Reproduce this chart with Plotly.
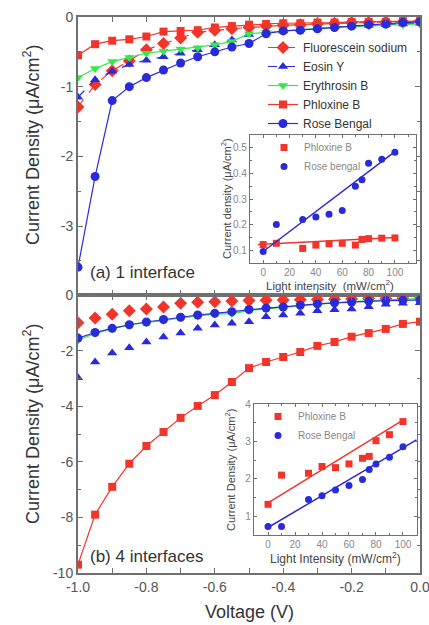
import plotly.graph_objects as go

# ---------------- data ----------------
voltage = [-1.0, -0.95, -0.9, -0.85, -0.8, -0.75, -0.7, -0.65, -0.6, -0.55, -0.5,
           -0.45, -0.4, -0.35, -0.3, -0.25, -0.2, -0.15, -0.1, -0.05, 0.0]

# (a) 1 interface
a_fluorescein = [-1.29, -0.97, -0.77, -0.63, -0.47, -0.38, -0.30, -0.22, -0.19, -0.17, -0.15,
                 -0.13, -0.12, -0.11, -0.10, -0.09, -0.08, -0.08, -0.07, -0.07, -0.06]
a_eosin = [-1.15, -0.90, -0.78, -0.68, -0.62, -0.57, -0.52, -0.47, -0.40, -0.33, -0.25,
           -0.22, -0.20, -0.18, -0.16, -0.14, -0.13, -0.12, -0.11, -0.10, -0.09]
a_erythrosin = [-0.87, -0.74, -0.64, -0.58, -0.52, -0.49, -0.46, -0.44, -0.40, -0.35, -0.24,
                -0.22, -0.20, -0.18, -0.16, -0.15, -0.14, -0.13, -0.12, -0.11, -0.10]
a_phloxine = [-0.55, -0.39, -0.34, -0.32, -0.28, -0.21, -0.20, -0.19, -0.15, -0.13, -0.11,
              -0.10, -0.09, -0.09, -0.08, -0.08, -0.07, -0.07, -0.07, -0.06, -0.06]
a_rose = [-3.59, -2.29, -1.20, -1.00, -0.87, -0.76, -0.66, -0.57, -0.50, -0.43, -0.38,
          -0.24, -0.20, -0.19, -0.17, -0.15, -0.13, -0.11, -0.10, -0.08, -0.07]

# (b) 4 interfaces
b_fluorescein = [-1.00, -0.83, -0.69, -0.57, -0.50, -0.43, -0.30, -0.26, -0.24, -0.22, -0.20,
                 -0.19, -0.18, -0.17, -0.16, -0.15, -0.14, -0.13, -0.13, -0.12, -0.12]
b_eosin = [-2.98, -2.41, -2.09, -1.90, -1.69, -1.51, -1.37, -1.20, -1.08, -1.02, -0.96,
           -0.78, -0.72, -0.66, -0.57, -0.53, -0.50, -0.42, -0.33, -0.30, -0.28]
b_erythrosin = [-1.62, -1.38, -1.22, -1.07, -0.99, -0.92, -0.82, -0.76, -0.69, -0.67, -0.56,
                -0.50, -0.44, -0.38, -0.32, -0.28, -0.24, -0.20, -0.17, -0.15, -0.13]
b_phloxine = [-9.70, -7.90, -6.90, -6.07, -5.43, -4.93, -4.42, -3.99, -3.60, -3.13, -2.63,
              -2.41, -2.23, -2.05, -1.83, -1.69, -1.50, -1.37, -1.22, -1.04, -0.96]
b_rose = [-1.55, -1.35, -1.20, -1.07, -0.97, -0.88, -0.80, -0.72, -0.66, -0.60, -0.52,
          -0.47, -0.43, -0.37, -0.32, -0.28, -0.25, -0.22, -0.20, -0.19, -0.18]

# insets: current density vs light intensity
intensity = [0, 10, 30, 40, 50, 60, 70, 75, 80, 90, 100]
in1_phloxine = [0.122, 0.127, 0.107, 0.120, 0.125, 0.127, 0.120, 0.142, 0.145, 0.147, 0.148]
in1_rose = [0.095, 0.200, 0.220, 0.230, 0.240, 0.255, 0.350, 0.375, 0.440, 0.455, 0.483]
in2_phloxine = [1.32, 2.10, 2.15, 2.33, 2.30, 2.40, 2.55, 2.60, 3.02, 3.18, 3.53]
in2_rose = [0.73, 0.73, 1.45, 1.55, 1.70, 1.82, 1.98, 2.25, 2.40, 2.58, 2.86]

# linear-fit lines (end points)
in1_fit_x = [-4, 100]
in1_fit_phloxine = [0.122, 0.150]
in1_fit_rose_x = [0, 100]
in1_fit_rose = [0.095, 0.485]
in2_fit_phloxine_x = [0, 100]
in2_fit_phloxine = [1.36, 3.57]
in2_fit_rose_x = [0, 110]
in2_fit_rose = [0.70, 3.04]

main_xticks = [-1.0, -0.8, -0.6, -0.4, -0.2, 0.0]
main_xticklabels = ["-1.0", "-0.8", "-0.6", "-0.4", "-0.2", "0.0"]
top_yticks = [-3, -2, -1, 0]
bottom_yticks = [-10, -8, -6, -4, -2, 0]
inset_xticks = [0, 20, 40, 60, 80, 100]
in1_yticks = [0.1, 0.2, 0.3, 0.4, 0.5]
in1_yticklabels = ["0.1", "0.2", "0.3", "0.4", "0.5"]
in2_yticks = [1, 2, 3, 4]

# ---------------- styles ----------------
RED = "#F2352B"
BLUE = "#2A2BD8"
GREEN = "#33E84A"
FRAME = "#707070"
TICKC = "#555555"
FONT = "Liberation Sans, Arial, sans-serif"

W, H = 429, 625


def px_x(p):
    return p / W


def px_y(p):
    return 1 - p / H


fig = go.Figure()

series = [
    ("Fluorescein sodium", a_fluorescein, b_fluorescein, RED, "diamond", 10, "dash"),
    ("Eosin Y", a_eosin, b_eosin, BLUE, "triangle-up", 9, "dash"),
    ("Erythrosin B", a_erythrosin, b_erythrosin, GREEN, "triangle-down", 9, "solid"),
    ("Phloxine B", a_phloxine, b_phloxine, RED, "square", 8, "solid"),
    ("Rose Bengal", a_rose, b_rose, BLUE, "circle", 9, "solid"),
]

for name, ya, yb, col, sym, sz, dash in series:
    fig.add_trace(go.Scatter(
        x=voltage, y=ya, name=name, mode="lines+markers",
        line=dict(color=col, width=1.2, dash=dash),
        marker=dict(color=col, symbol=sym, size=sz, line=dict(width=0)),
        xaxis="x", yaxis="y", legend="legend", showlegend=True))
    fig.add_trace(go.Scatter(
        x=voltage, y=yb, name=name,
        mode="markers" if dash == "dash" else "lines+markers",
        line=dict(color=col, width=1.2),
        marker=dict(color=col, symbol=sym, size=sz, line=dict(width=0)),
        xaxis="x2", yaxis="y2", showlegend=False))


def add_inset(xa, ya, yred, yblue, legend, names, fits):
    for yv, col, sym, nm in [(yred, RED, "square", names[0]), (yblue, BLUE, "circle", names[1])]:
        fig.add_trace(go.Scatter(
            x=intensity, y=yv, name=nm, mode="markers",
            marker=dict(color=col, symbol=sym, size=7),
            xaxis=xa, yaxis=ya, legend=legend, showlegend=True))
    for fx, fy, col in fits:
        fig.add_trace(go.Scatter(
            x=fx, y=fy, mode="lines", line=dict(color=col, width=1.5),
            xaxis=xa, yaxis=ya, showlegend=False, hoverinfo="skip"))


add_inset("x3", "y3", in1_phloxine, in1_rose, "legend2", ("Phloxine B", "Rose bengal"),
          [(in1_fit_x, in1_fit_phloxine, RED), (in1_fit_rose_x, in1_fit_rose, BLUE)])
add_inset("x4", "y4", in2_phloxine, in2_rose, "legend3", ("Phloxine B", "Rose Bengal"),
          [(in2_fit_phloxine_x, in2_fit_phloxine, RED), (in2_fit_rose_x, in2_fit_rose, BLUE)])

main_axis = dict(showline=True, linecolor=FRAME, linewidth=2, mirror="ticks",
                 ticks="inside", ticklen=5, tickcolor=FRAME, tickwidth=1,
                 showgrid=False, zeroline=False, automargin=False,
                 ticklabeloverflow="allow",
                 tickfont=dict(family=FONT, size=14, color=TICKC))
inset_axis = dict(showline=True, linecolor=FRAME, linewidth=1.2, mirror="ticks",
                  ticks="inside", ticklen=3, tickcolor=FRAME, tickwidth=1,
                  showgrid=False, zeroline=False, automargin=False,
                  ticklabeloverflow="allow",
                  tickfont=dict(family=FONT, size=10, color="#888888"))

xdom = [px_x(78), px_x(420)]
top_dom = [px_y(295), px_y(17)]
bot_dom = [px_y(573), px_y(295)]

fig.update_layout(
    width=W, height=H,
    margin=dict(l=0, r=0, t=0, b=0, autoexpand=False),
    paper_bgcolor="white", plot_bgcolor="white",
    font=dict(family=FONT, color="#333333"),
    xaxis=dict(main_axis, domain=xdom, range=[-1.0, 0.0], anchor="y",
               tickvals=main_xticks, showticklabels=False,
               minor=dict(dtick=0.1, ticks="inside", ticklen=5, tickcolor=FRAME)),
    yaxis=dict(main_axis, domain=top_dom, range=[-3.99, 0], anchor="x",
               tickvals=top_yticks, ticktext=[str(v) for v in top_yticks],
               minor=dict(tickvals=[-3.5, -2.5, -1.5, -0.5], ticks="inside", ticklen=3, tickcolor=FRAME)),
    xaxis2=dict(main_axis, domain=xdom, range=[-1.0, 0.0], anchor="y2",
                tickvals=main_xticks, ticktext=main_xticklabels,
                minor=dict(dtick=0.1, ticks="inside", ticklen=5, tickcolor=FRAME)),
    yaxis2=dict(main_axis, domain=bot_dom, range=[-10, 0], anchor="x2",
                tickvals=bottom_yticks, ticktext=[str(v) for v in bottom_yticks],
                minor=dict(dtick=1, ticks="inside", ticklen=3, tickcolor=FRAME)),
    xaxis3=dict(inset_axis, domain=[px_x(250), px_x(416)], range=[-10, 116], anchor="y3",
                tickvals=inset_xticks,
                minor=dict(dtick=10, ticks="inside", ticklen=2, tickcolor=FRAME)),
    yaxis3=dict(inset_axis, domain=[px_y(263), px_y(135)], range=[0.05, 0.55], anchor="x3",
                tickvals=in1_yticks, ticktext=in1_yticklabels,
                minor=dict(dtick=0.05, ticks="inside", ticklen=2, tickcolor=FRAME)),
    xaxis4=dict(inset_axis, domain=[px_x(254), px_x(417)], range=[-10.4, 110.4], anchor="y4",
                tickvals=inset_xticks,
                minor=dict(dtick=10, ticks="inside", ticklen=2, tickcolor=FRAME)),
    yaxis4=dict(inset_axis, domain=[px_y(535), px_y(404)], range=[0.5, 4], anchor="x4",
                tickvals=in2_yticks,
                minor=dict(dtick=0.5, ticks="inside", ticklen=2, tickcolor=FRAME)),
    legend=dict(x=px_x(263), y=px_y(33), xanchor="left", yanchor="top",
                bgcolor="rgba(255,255,255,0)", borderwidth=0,
                font=dict(family=FONT, size=12, color="#333333"),
                itemwidth=30, tracegroupgap=0),
    legend2=dict(x=px_x(264), y=px_y(133), xanchor="left", yanchor="top",
                 bgcolor="rgba(255,255,255,0)", borderwidth=0,
                 font=dict(family=FONT, size=10, color="#888888"), itemwidth=30),
    legend3=dict(x=px_x(258), y=px_y(402), xanchor="left", yanchor="top",
                 bgcolor="rgba(255,255,255,0)", borderwidth=0,
                 font=dict(family=FONT, size=10, color="#888888"), itemwidth=30),
)


def note(text, x, y, size, color="#333333", angle=0, xanchor="center"):
    return dict(text=text, x=px_x(x), y=px_y(y), xref="paper", yref="paper",
                xanchor=xanchor, yanchor="middle", textangle=angle, showarrow=False,
                font=dict(family=FONT, size=size, color=color))


ytitle = "Current Density (\u03bcA/cm<sup>2</sup>)"
ann = [
    note(ytitle, 31, 145, 18, angle=-90),
    note(ytitle, 31, 424, 18, angle=-90),
    note("Voltage (V)", 249, 612, 18),
    note("(a) 1 interface", 88, 272, 17, xanchor="left"),
    note("(b) 4 interfaces", 88, 556, 17, xanchor="left"),
    note("Light intensity  (mW/cm<sup>2</sup>)", 330, 284.5, 11.5, color="#444444"),
    note("Current density (\u03bcA/cm<sup>2</sup>)", 226, 199, 11, color="#444444", angle=-90),
    note("Light Intensity (mW/cm<sup>2</sup>)", 335, 558, 12, color="#444444"),
    note("Current Density (\u03bcA/cm<sup>2</sup>)", 230, 470, 11, color="#444444", angle=-90),
]
fig.update_layout(annotations=ann)

fig.write_html("out.html", config={"displayModeBar": False},
               post_script="document.body.style.margin='0';document.body.style.overflow='hidden';")
